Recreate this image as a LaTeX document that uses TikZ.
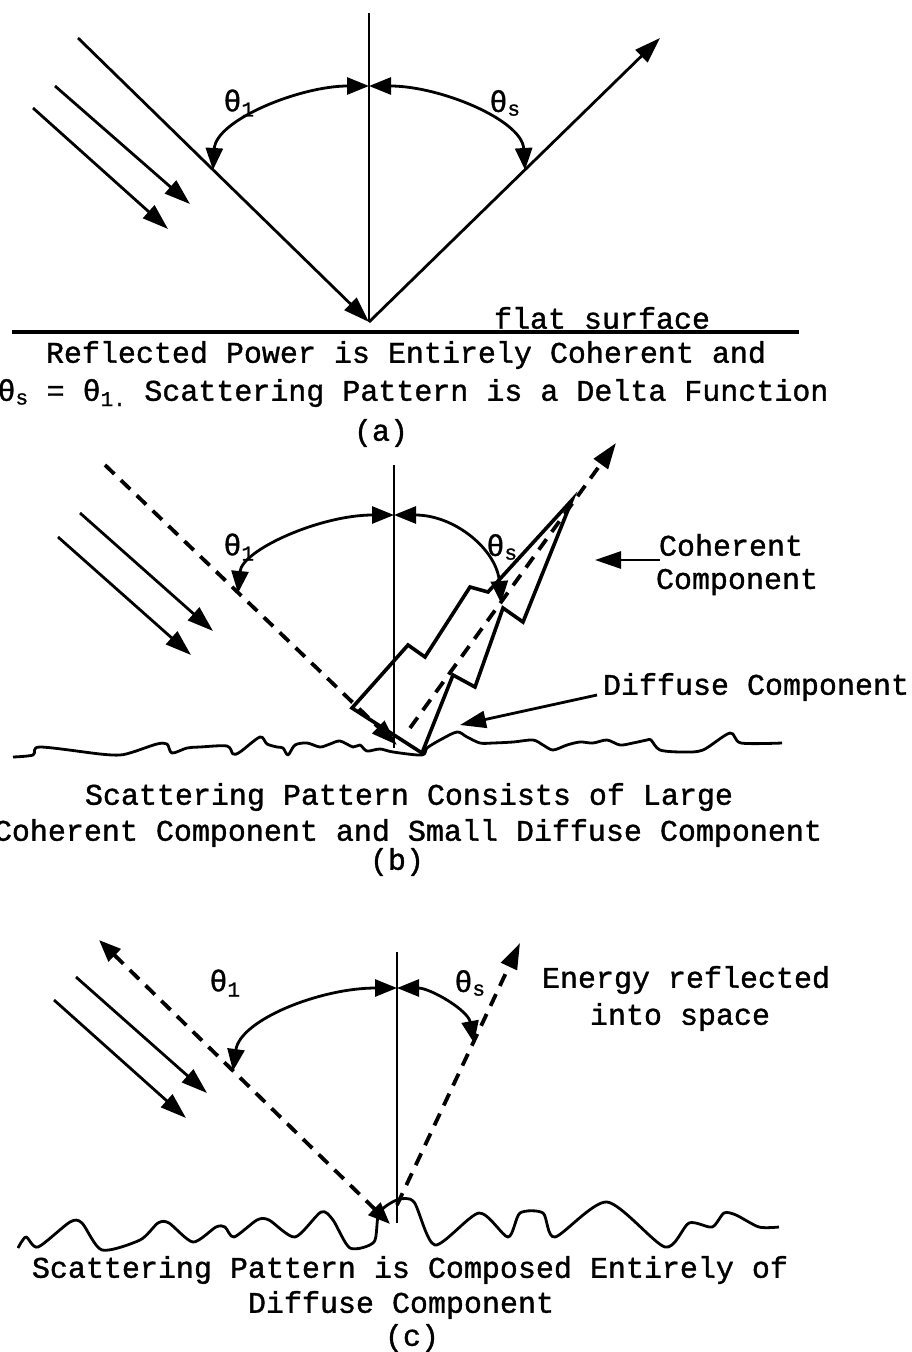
\documentclass[tikz,border=0pt]{standalone}
\usepackage{fontspec}
\newfontfamily\cour[FakeBold=1.2]{Liberation Mono}
\usetikzlibrary{arrows.meta}
\begin{document}
\begin{tikzpicture}[x=1pt,y=-1pt,
  ray/.style={line width=2.8pt},
  thinv/.style={line width=1.4pt},
  dash ray/.style={line width=3.8pt, dash pattern=on 13pt off 9pt},
  lobe/.style={line width=3.6pt, line join=miter},
  ground/.style={line width=2.8pt, line join=round},
  hd/.style={-{Triangle[length=26pt,width=17pt]}},
  hdd/.style={{Triangle[length=22pt,width=17pt]}-{Triangle[length=22pt,width=17pt]}},
  txt/.style={font=\cour\fontsize{30}{36}\selectfont, inner sep=0pt, anchor=center}]
\useasboundingbox (0,0) rectangle (911,1352);

% ---------------- panel (a) ----------------
\coordinate (aV1) at (369,13);
\coordinate (aR) at (369,322);
\coordinate (aI1) at (78,38);
\coordinate (aI2s) at (55,86);  \coordinate (aI2e) at (190,204);
\coordinate (aI3s) at (33,108); \coordinate (aI3e) at (168,229);
\coordinate (aO) at (660,38);
\coordinate (aT) at (369,86);
\coordinate (aL) at (213,170);
\coordinate (aRr) at (525,170);
\coordinate (aS1) at (12,332); \coordinate (aS2) at (799,332);

\draw[thinv] (aV1) -- (aR);
\draw[ray,hd] (aI1) -- (aR);
\draw[ray,hd] (aR) -- (aO);
\draw[ray,hd] (aI2s) -- (aI2e);
\draw[ray,hd] (aI3s) -- (aI3e);
\draw[ray,hdd] (aT) .. controls (300,86) and (216,120) .. (aL);
\draw[ray,hdd] (aT) .. controls (440,86) and (522,120) .. (aRr);
\draw[line width=3.2pt] (aS1) -- (aS2);

\node[txt] (ath1) at (239,103) {θ\textsubscript{1}};
\node[txt] (aths) at (505,103) {θ\textsubscript{s}};
\node[txt] (aflat) at (602,318) {flat surface};
\node[txt] (aline1) at (406,355) {Reflected Power is Entirely Coherent and};
\node[txt] (aline2) at (413,393) {θ\textsubscript{s} = θ\textsubscript{1.} Scattering Pattern is a Delta Function};
\node[txt] (alab) at (381,433) {(a)};

% ---------------- panel (b) ----------------
\coordinate (bV1) at (394,465); \coordinate (bV2) at (394,748);
\coordinate (bI1) at (105,465); \coordinate (bR) at (397,745);
\coordinate (bI2s) at (80,513);  \coordinate (bI2e) at (213,631);
\coordinate (bI3s) at (58,537);  \coordinate (bI3e) at (191,655);
\coordinate (bT) at (394,515);
\coordinate (bL) at (238,593);
\coordinate (bRr) at (501,603);
\coordinate (bDs) at (410,728); \coordinate (bO) at (616,443);

\draw[thinv] (bV1) -- (bV2);
\draw[ray,hd] (bI2s) -- (bI2e);
\draw[ray,hd] (bI3s) -- (bI3e);
\draw[dash ray,hd] (bI1) -- (bR);
\draw[dash ray,hd] (bDs) -- (bO);
\draw[ray,hdd] (bT) .. controls (320,515) and (242,550) .. (bL);
\draw[ray,hdd] (bT) .. controls (455,515) and (497,550) .. (bRr);

\coordinate (pT) at (572,500);
\coordinate (pL1) at (488,592); \coordinate (pL2) at (470,587);
\coordinate (pL3) at (425,657); \coordinate (pL4) at (408,645);
\coordinate (pL5) at (352,708); \coordinate (pB) at (422,753);
\coordinate (pR1) at (453,675); \coordinate (pR2) at (475,687);
\coordinate (pR3) at (503,608); \coordinate (pR4) at (523,622);
\draw[lobe] (pT) -- (pL1) -- (pL2) -- (pL3) -- (pL4) -- (pL5) -- (pB)
  -- (pR1) -- (pR2) -- (pR3) -- (pR4) -- cycle;

\draw[ground] plot[smooth, tension=0.5] coordinates {
 (13,757) (33,755) (40,747) (100,754) (120,755) (133,752) (157,744) (167,744)
 (172,753) (187,748) (200,747) (227,746) (233,754) (240,752) (260,737) (267,744)
 (277,747) (283,748) (288,755) (295,745) (307,743) (320,747) (330,744) (340,741)
 (353,747) (360,745) (367,751) (380,749) (393,752) (422,755) (427,748) (440,740)
 (457,732) (467,737) (480,743) (493,743) (513,742) (533,740) (543,745) (553,750)
 (567,745) (580,742) (593,743) (607,740) (620,745) (633,743) (647,740) (651,740)
 (660,750) (683,752) (703,750) (730,733) (741,743) (782,743)};

\coordinate (bCa) at (660,560); \coordinate (bCb) at (595,560);
\draw[ray,hd] (bCa) -- (bCb);
\coordinate (bFa) at (597,695); \coordinate (bFb) at (460,725);
\draw[ray,hd] (bFa) -- (bFb);

\node[txt] (bth1) at (239,547) {θ\textsubscript{1}};
\node[txt] (bths) at (502,547) {θ\textsubscript{s}};
\node[txt] (bcoh1) at (731,545) {Coherent};
\node[txt] (bcoh2) at (737,582) {Component};
\node[txt] (bdif) at (756,687) {Diffuse Component};
\node[txt] (bline1) at (409,797) {Scattering Pattern Consists of Large};
\node[txt] (bline2) at (408,833) {Coherent Component and Small Diffuse Component};
\node[txt] (blab) at (397,862) {(b)};

% ---------------- panel (c) ----------------
\coordinate (cV1) at (397,952); \coordinate (cV2) at (397,1223);
\coordinate (cI1) at (99,940); \coordinate (cR) at (390,1224);
\coordinate (cI2s) at (76,977);  \coordinate (cI2e) at (207,1093);
\coordinate (cI3s) at (54,1000); \coordinate (cI3e) at (186,1118);
\coordinate (cT) at (397,988);
\coordinate (cL) at (233,1071);
\coordinate (cRr) at (474,1043);
\coordinate (cDs) at (397,1205); \coordinate (cO) at (520,943);

\draw[thinv] (cV1) -- (cV2);
\draw[ray,hd] (cI2s) -- (cI2e);
\draw[ray,hd] (cI3s) -- (cI3e);
\draw[dash ray,hdd] (cI1) -- (cR);
\draw[dash ray,hd] (cDs) -- (cO);
\draw[ray,hdd] (cT) .. controls (320,988) and (240,1020) .. (cL);
\draw[ray,hdd] (cT) .. controls (430,988) and (468,1010) .. (cRr);

\draw[ground] plot[smooth, tension=0.45] coordinates {
 (18,1248) (26,1237) (38,1247) (70,1222) (82,1223) (102,1250) (140,1240)
 (158,1223) (169,1223) (193,1242) (216,1227) (225,1227) (234,1237) (257,1220)
 (269,1220) (295,1237) (321,1212) (333,1220) (350,1248) (374,1242) (379,1213)
 (397,1200) (414,1202) (435,1245) (479,1213) (508,1237) (520,1213) (543,1213)
 (555,1237) (607,1202) (665,1247) (689,1223) (712,1227) (724,1213) (736,1215)
 (759,1227) (779,1227)};

\node[txt] (cth1) at (225,983) {θ\textsubscript{1}};
\node[txt] (cths) at (470,983) {θ\textsubscript{s}};
\node[txt] (cen1) at (686,980) {Energy reflected};
\node[txt] (cen2) at (680,1017) {into space};
\node[txt] (cline1) at (410,1270) {Scattering Pattern is Composed Entirely of};
\node[txt] (cline2) at (401,1305) {Diffuse Component};
\node[txt] (clab) at (412,1338) {(c)};
\end{tikzpicture}
\end{document}
